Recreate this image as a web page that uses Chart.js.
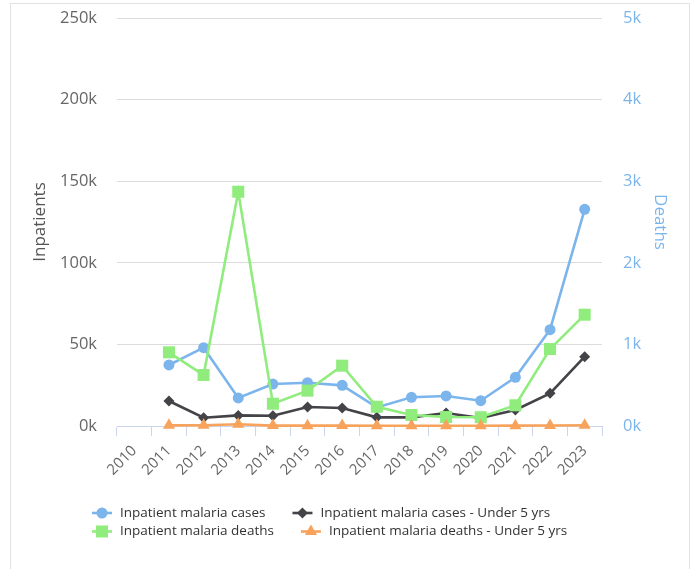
<!DOCTYPE html>
<html>
<head>
<meta charset="utf-8">
<title>Inpatient malaria</title>
<script src="https://cdn.jsdelivr.net/npm/chart.js@4.4.1/dist/chart.umd.min.js"></script>
<style>
  html, body { margin: 0; padding: 0; background: #fff; }
  #frame { position: absolute; left: 10px; top: 3px; width: 678px; height: 620px; border: 1px solid #e2e2e2; }
  #wrap { position: absolute; left: 0; top: 0; width: 696px; height: 569px; }
</style>
</head>
<body>
<div id="frame"></div>
<div id="wrap"><canvas id="chart" width="696" height="569"></canvas></div>
<script>
'use strict';

// Data
const years = ['2010', '2011', '2012', '2013', '2014', '2015', '2016',
               '2017', '2018', '2019', '2020', '2021', '2022', '2023'];
const inpatientCases = [null, 37400, 48000, 17200, 25700, 26500, 24900, 11400, 17600, 18400, 15500, 29800, 59000, 132800];
const inpatientCasesU5 = [null, 15300, 5100, 6500, 6300, 11600, 11000, 5300, 5300, 8000, 4900, 9800, 20000, 42500];
const inpatientDeaths = [null, 903, 625, 2871, 273, 433, 739, 236, 135, 110, 107, 254, 943, 1364];
const inpatientDeathsU5 = [null, 8, 10, 22, 5, 4, 5, 3, 3, 3, 3, 4, 6, 9];

const leftTicks = [0, 50000, 100000, 150000, 200000, 250000];
const rightTicks = [0, 1000, 2000, 3000, 4000, 5000];

const FONT = '"Open Sans", "DejaVu Sans", sans-serif';
Chart.defaults.font.family = FONT;

function kLabel(v) {
  return (v / 1000) + 'k';
}

// fixed axis width, and no extra top/bottom room for the tick labels
function fixWidth(w) {
  return scale => {
    scale.width = w;
    scale.paddingTop = 0;
    scale.paddingBottom = 0;
  };
}

// two-row legend like the original (rows of two items, left aligned)
const legendRows = [[0, 1], [2, 3]];
const rowLegend = {
  id: 'rowLegend',
  afterDraw(chart) {
    const ctx = chart.ctx;
    ctx.save();
    ctx.font = '13.5px ' + FONT;
    ctx.textBaseline = 'middle';
    ctx.textAlign = 'left';
    legendRows.forEach((row, r) => {
      let x = 92;
      const y = 513 + r * 18.5;
      row.forEach(i => {
        const ds = chart.data.datasets[i];
        ctx.strokeStyle = ds.borderColor;
        ctx.fillStyle = ds.backgroundColor;
        ctx.lineWidth = 2.6;
        ctx.beginPath();
        ctx.moveTo(x, y);
        ctx.lineTo(x + 20, y);
        ctx.stroke();
        Chart.helpers.drawPoint(ctx, {
          pointStyle: ds.pointStyle,
          radius: ds.pointRadius,
          rotation: 0,
          borderWidth: 0
        }, x + 10, y);
        ctx.fillStyle = '#333333';
        ctx.fillText(ds.label, x + 28, y);
        x += 28 + ctx.measureText(ds.label).width + 27;
      });
    });
    ctx.restore();
  }
};

const ctx = document.getElementById('chart').getContext('2d');

new Chart(ctx, {
  type: 'line',
  data: {
    labels: years,
    datasets: [{
      label: 'Inpatient malaria cases',
      data: inpatientCases,
      yAxisID: 'yCases',
      borderColor: '#7cb5ec',
      backgroundColor: '#7cb5ec',
      pointStyle: 'circle',
      pointRadius: 5.5,
      clip: false,
      order: 4
    }, {
      label: 'Inpatient malaria cases - Under 5 yrs',
      data: inpatientCasesU5,
      yAxisID: 'yCases',
      borderColor: '#434348',
      backgroundColor: '#434348',
      pointStyle: 'rectRot',
      pointRadius: 5.5,
      clip: false,
      order: 3
    }, {
      label: 'Inpatient malaria deaths',
      data: inpatientDeaths,
      yAxisID: 'yDeaths',
      borderColor: '#90ed7d',
      backgroundColor: '#90ed7d',
      pointStyle: 'rect',
      pointRadius: 8.5,
      clip: false,
      order: 2
    }, {
      label: 'Inpatient malaria deaths - Under 5 yrs',
      data: inpatientDeathsU5,
      yAxisID: 'yDeaths',
      borderColor: '#f7a35c',
      backgroundColor: '#f7a35c',
      pointStyle: 'triangle',
      pointRadius: 7,
      clip: false,
      order: 1
    }]
  },
  options: {
    responsive: false,
    animation: false,
    layout: {
      padding: { left: 0, right: 0, top: 18, bottom: 73 }
    },
    elements: {
      line: { borderWidth: 2.6, tension: 0 },
      point: { borderWidth: 0, hoverRadius: 6 }
    },
    plugins: {
      legend: { display: false },
      tooltip: { enabled: false }
    },
    scales: {
      x: {
        type: 'category',
        offset: true,
        grid: {
          offset: true,
          drawOnChartArea: false,
          drawTicks: true,
          tickLength: 10,
          color: '#ccd6eb',
          lineWidth: 1
        },
        border: { color: '#ccd6eb', width: 1 },
        ticks: {
          color: '#666666',
          font: { size: 15 },
          minRotation: 45,
          maxRotation: 45,
          padding: 6,
          autoSkip: false
        },
        afterFit(scale) { scale.height = 70; }
      },
      yCases: {
        type: 'linear',
        position: 'left',
        min: 0,
        max: 250000,
        afterBuildTicks(scale) { scale.ticks = leftTicks.map(v => ({ value: v })); },
        grid: {
          drawTicks: false,
          color: c => (c.tick && c.tick.value === 0) ? 'rgba(0,0,0,0)' : '#dcdcdc',
          lineWidth: 1
        },
        border: { display: false },
        ticks: {
          color: '#666666',
          font: { size: 16.5 },
          padding: 20,
          callback: kLabel
        },
        title: {
          display: true,
          text: 'Inpatients',
          color: '#555555',
          font: { size: 17 },
          padding: { top: 30, bottom: 0 }
        },
        afterFit: fixWidth(117)
      },
      yDeaths: {
        type: 'linear',
        position: 'right',
        min: 0,
        max: 5000,
        afterBuildTicks(scale) { scale.ticks = rightTicks.map(v => ({ value: v })); },
        grid: { display: false, drawTicks: false },
        border: { display: false },
        ticks: {
          color: '#7cb5ec',
          font: { size: 16.5 },
          padding: 21,
          callback: kLabel
        },
        title: {
          display: true,
          text: 'Deaths',
          color: '#7cb5ec',
          font: { size: 17 },
          padding: { top: 26, bottom: 0 }
        },
        afterFit: fixWidth(94)
      }
    }
  },
  plugins: [rowLegend]
});
</script>
</body>
</html>
